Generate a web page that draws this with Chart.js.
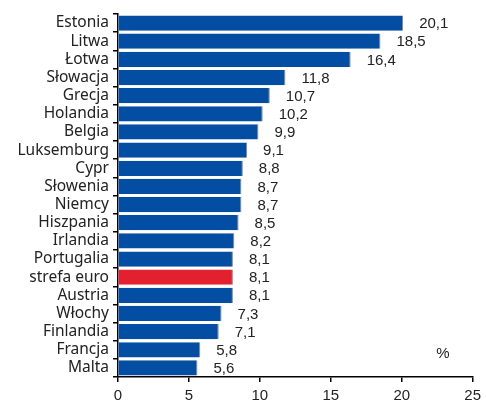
<!DOCTYPE html>
<html><head><meta charset="utf-8">
<script src="https://cdn.jsdelivr.net/npm/chart.js@4"></script>
<style>html,body{margin:0;padding:0;background:#fff;}#wrap{width:486px;height:401px;position:relative;}</style>
</head><body><div id="wrap"><canvas id="c" width="486" height="401"></canvas></div>
<script>
const categories = ["Estonia","Litwa","Łotwa","Słowacja","Grecja","Holandia","Belgia","Luksemburg","Cypr","Słowenia","Niemcy","Hiszpania","Irlandia","Portugalia","strefa euro","Austria","Włochy","Finlandia","Francja","Malta"];
const values = [20.1,18.5,16.4,11.8,10.7,10.2,9.9,9.1,8.8,8.7,8.7,8.5,8.2,8.1,8.1,8.1,7.3,7.1,5.8,5.6];
const highlight = "strefa euro";
const xTicks = [0,5,10,15,20,25];
const unitLabel = "%";

const blue = "#034ea2", red = "#e3202f";
const colors = categories.map(c => c === highlight ? red : blue);

const labelPlugin = {
  id: 'vals',
  afterDatasetsDraw(chart) {
    const ctx = chart.ctx;
    const meta = chart.getDatasetMeta(0);
    ctx.save();
    ctx.fillStyle = '#222';
    ctx.font = '15px "Liberation Sans", "Open Sans", sans-serif';
    ctx.textBaseline = 'middle';
    ctx.textAlign = 'left';
    meta.data.forEach((bar, i) => {
      ctx.fillText(values[i].toFixed(1).replace('.', ','), bar.x + 16, bar.y + 1);
    });
    const xs = chart.scales.x, ys = chart.scales.y;
    ctx.fillText(unitLabel, xs.getPixelForValue(22.5) - 1, ys.getPixelForValue(categories.length - 2) + 4);
    ctx.restore();
  }
};

new Chart(document.getElementById('c'), {
  type: 'bar',
  data: { labels: categories, datasets: [{ data: values, backgroundColor: colors, borderColor: colors.map(c => c === red ? '#f06070' : '#5a8fd0'), borderWidth: {top:0,bottom:0,left:0,right:1}, borderSkipped: false, barPercentage: 0.84, categoryPercentage: 1 }] },
  options: {
    indexAxis: 'y',
    responsive: false,
    animation: false,
    events: [],
    layout: { padding: { top: 14, right: 12, left: 0, bottom: 0 } },
    plugins: { legend: { display: false }, tooltip: { enabled: false } },
    scales: {
      x: {
        min: 0, max: 25,
        afterBuildTicks(s) { s.ticks = xTicks.map(v => ({ value: v })); },
        afterFit(s) { s.height = 24; },
        border: { display: true, color: '#000', width: 1.5 },
        grid: { display: true, drawOnChartArea: false, drawTicks: true, tickLength: 5, color: '#000', lineWidth: 1.5 },
        ticks: { color: '#222', font: { size: 15, family: '"Liberation Sans", "Open Sans", sans-serif' }, padding: 5, maxRotation: 0 }
      },
      y: {
        offset: true,
        afterFit(s) { s.width = 118; },
        border: { display: true, color: '#000', width: 1.5 },
        grid: { display: true, offset: true, drawOnChartArea: false, drawTicks: true, tickLength: 5, color: '#000', lineWidth: 1.5 },
        ticks: { color: '#222', font: { size: 15.5, family: '"Noto Sans", sans-serif' }, padding: 4, autoSkip: false }
      }
    }
  },
  plugins: [labelPlugin]
});
</script></body></html>
